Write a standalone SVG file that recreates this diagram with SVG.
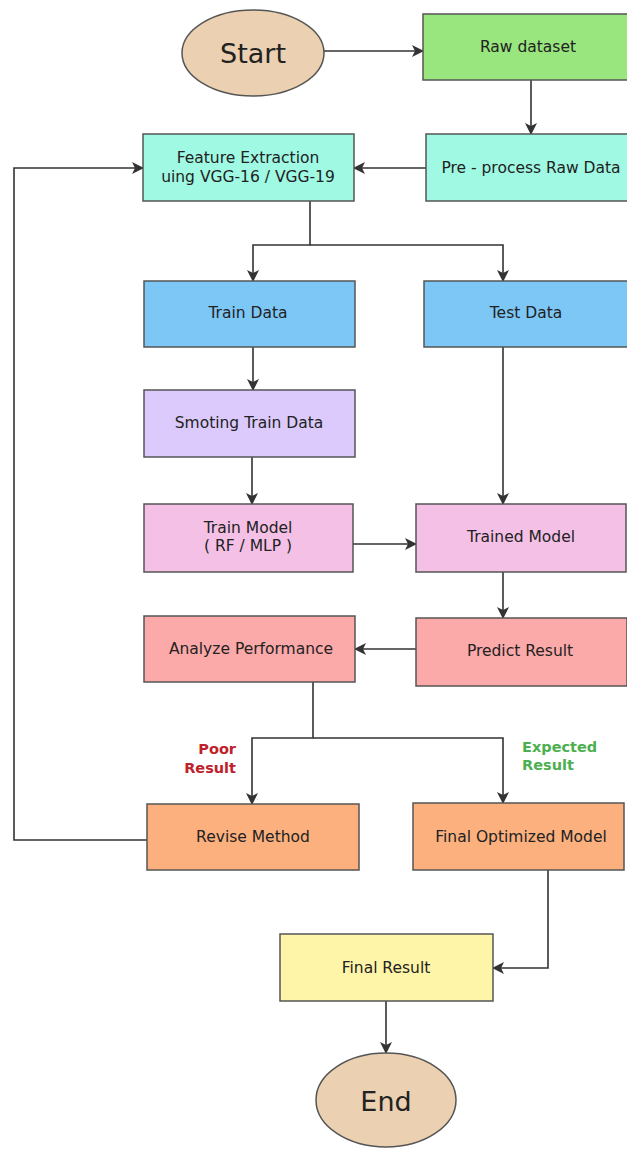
<svg xmlns="http://www.w3.org/2000/svg" width="627" height="1149" viewBox="0 0 627 1149">
<defs>
<style>
.n{stroke:#555;stroke-width:1.5}
.t{font-family:"DejaVu Sans","Open Sans",sans-serif;font-size:15.5px;fill:#222;text-anchor:middle;dominant-baseline:central}
.big{font-size:27px}
.c{fill:none;stroke:#333;stroke-width:1.6}
.lb{font-family:"DejaVu Sans","Open Sans",sans-serif;font-size:14.5px;font-weight:bold;dominant-baseline:central}
</style>
<marker id="ah" viewBox="0 0 12 12" refX="11" refY="6" markerWidth="12" markerHeight="12" markerUnits="userSpaceOnUse" orient="auto">
<path d="M0,0 L12,6 L0,12 L3,6 Z" fill="#333"/>
</marker>
</defs>
<rect width="627" height="1149" fill="#fff"/>
<g id="connectors">
<path class="c" d="M323,51 H423" marker-end="url(#ah)"/>
<path class="c" d="M531,80 V134" marker-end="url(#ah)"/>
<path class="c" d="M426,168 H354" marker-end="url(#ah)"/>
<path class="c" d="M147,840 H14 V168 H143" marker-end="url(#ah)"/>
<path class="c" d="M310,201 V245 H253 V281" marker-end="url(#ah)"/>
<path class="c" d="M310,245 H503 V281" marker-end="url(#ah)"/>
<path class="c" d="M253,347 V390" marker-end="url(#ah)"/>
<path class="c" d="M252,457 V504" marker-end="url(#ah)"/>
<path class="c" d="M503,347 V504" marker-end="url(#ah)"/>
<path class="c" d="M353,544 H416" marker-end="url(#ah)"/>
<path class="c" d="M503,572 V618" marker-end="url(#ah)"/>
<path class="c" d="M416,649 H355" marker-end="url(#ah)"/>
<path class="c" d="M313,682 V738 H252 V804" marker-end="url(#ah)"/>
<path class="c" d="M313,738 H503 V803" marker-end="url(#ah)"/>
<path class="c" d="M548,870 V968 H493" marker-end="url(#ah)"/>
<path class="c" d="M386,1001 V1053" marker-end="url(#ah)"/>
<text class="lb" x="236" y="749" fill="#c0202a" text-anchor="end">Poor</text>
<text class="lb" x="236" y="768" fill="#c0202a" text-anchor="end">Result</text>
<text class="lb" x="522" y="747" fill="#4caf50">Expected</text>
<text class="lb" x="522" y="765" fill="#4caf50">Result</text>
</g>
<g id="start"><ellipse class="n" cx="253" cy="53" rx="71" ry="43" fill="#ebd0b1"/><text class="t big" x="253" y="53">Start</text></g>
<g id="raw"><rect class="n" x="423" y="14" width="211" height="66" fill="#98e67d"/><text class="t" x="528" y="47">Raw dataset</text></g>
<g id="preprocess"><rect class="n" x="426" y="134" width="211" height="67" fill="#a0f9e3"/><text class="t" x="531" y="168">Pre - process Raw Data</text></g>
<g id="feature"><rect class="n" x="143" y="134" width="211" height="67" fill="#a0f9e3"/><text class="t" x="248" y="158">Feature Extraction</text><text class="t" x="248" y="177">uing VGG-16 / VGG-19</text></g>
<g id="train"><rect class="n" x="144" y="281" width="211" height="66" fill="#7dc7f7"/><text class="t" x="248" y="313">Train Data</text></g>
<g id="test"><rect class="n" x="424" y="281" width="210" height="66" fill="#7dc7f7"/><text class="t" x="526" y="313">Test Data</text></g>
<g id="smoting"><rect class="n" x="144" y="390" width="211" height="67" fill="#dccafc"/><text class="t" x="249" y="423">Smoting Train Data</text></g>
<g id="trainmodel"><rect class="n" x="144" y="504" width="209" height="68" fill="#f5c0e6"/><text class="t" x="248" y="528">Train Model</text><text class="t" x="248" y="546">( RF / MLP )</text></g>
<g id="trained"><rect class="n" x="416" y="504" width="210" height="68" fill="#f5c0e6"/><text class="t" x="521" y="537">Trained Model</text></g>
<g id="analyze"><rect class="n" x="144" y="616" width="211" height="66" fill="#fca9a9"/><text class="t" x="251" y="649">Analyze Performance</text></g>
<g id="predict"><rect class="n" x="416" y="618" width="211" height="68" fill="#fca9a9"/><text class="t" x="520" y="651">Predict Result</text></g>
<g id="revise"><rect class="n" x="147" y="804" width="212" height="66" fill="#fcb07e"/><text class="t" x="253" y="837">Revise Method</text></g>
<g id="finalmodel"><rect class="n" x="413" y="803" width="211" height="67" fill="#fcb07e"/><text class="t" x="521" y="837">Final Optimized Model</text></g>
<g id="finalresult"><rect class="n" x="280" y="934" width="213" height="67" fill="#fff5a8"/><text class="t" x="386" y="968">Final Result</text></g>
<g id="end"><ellipse class="n" cx="386" cy="1100" rx="70" ry="47" fill="#ebd0b1"/><text class="t big" x="386" y="1101">End</text></g>
</svg>
